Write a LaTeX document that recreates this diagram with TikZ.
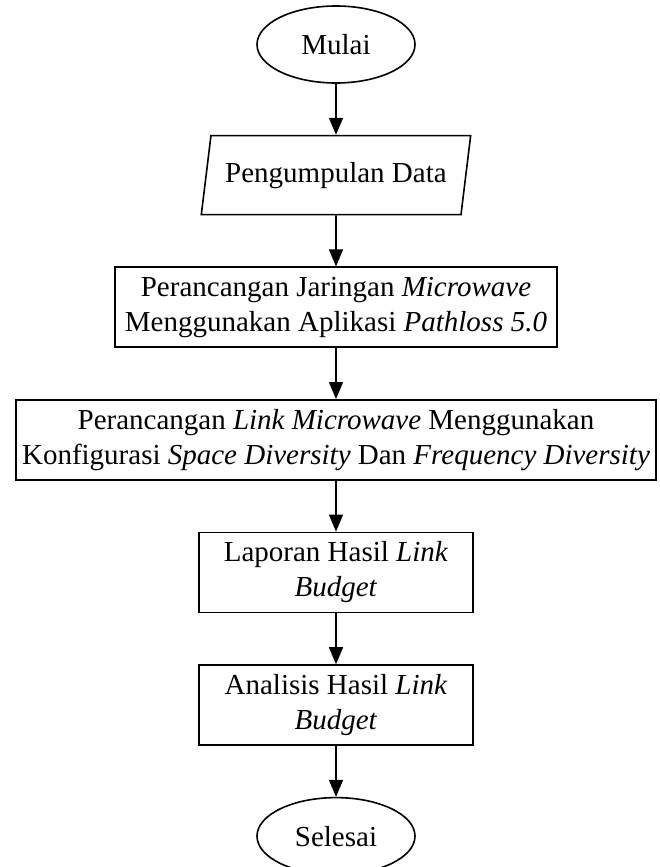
\documentclass[tikz,border=0pt]{standalone}
\usepackage{fontspec}
\setmainfont{Liberation Serif}
\usetikzlibrary{positioning,arrows.meta,shapes.geometric}

\begin{document}
\begin{tikzpicture}[
x=1pt,y=1pt,
node distance=51pt,
font=\fontsize{29}{35}\selectfont,
terminal/.style={
ellipse,
draw,
line width=1.6pt,
minimum width=158pt,
minimum height=77pt,
inner sep=0pt
},
iobox/.style={
trapezium,
trapezium left angle=72,
trapezium right angle=108,
trapezium stretches=true,
draw,
line width=1.6pt,
minimum width=270pt,
minimum height=79pt,
inner sep=0pt
},
box/.style={
rectangle,
draw,
line width=1.6pt,
minimum height=80pt,
align=center,
inner sep=0pt
},
arrow/.style={
-{Triangle[length=17pt,width=14pt]},
line width=1.6pt
}
]

\useasboundingbox (0,0) rectangle (659,-867);

\node[terminal] (mulai) at (336,-44.5) {Mulai};
\node[iobox,below=of mulai] (data) {Pengumpulan Data};
\node[box,minimum width=442pt,below=of data] (rancang) {Perancangan Jaringan \textit{Microwave}\\Menggunakan Aplikasi \textit{Pathloss 5.0}};
\node[box,minimum width=640pt,below=of rancang] (link) {Perancangan \textit{Link Microwave} Menggunakan\\Konfigurasi \textit{Space Diversity} Dan \textit{Frequency Diversity}};
\node[box,minimum width=274pt,below=of link] (laporan) {Laporan Hasil \textit{Link}\\\textit{Budget}};
\node[box,minimum width=274pt,below=of laporan] (analisis) {Analisis Hasil \textit{Link}\\\textit{Budget}};
\node[terminal,below=of analisis] (selesai) {Selesai};

\draw[arrow] (mulai)--(data);
\draw[arrow] (data)--(rancang);
\draw[arrow] (rancang)--(link);
\draw[arrow] (link)--(laporan);
\draw[arrow] (laporan)--(analisis);
\draw[arrow] (analisis)--(selesai);

\end{tikzpicture}
\end{document}
